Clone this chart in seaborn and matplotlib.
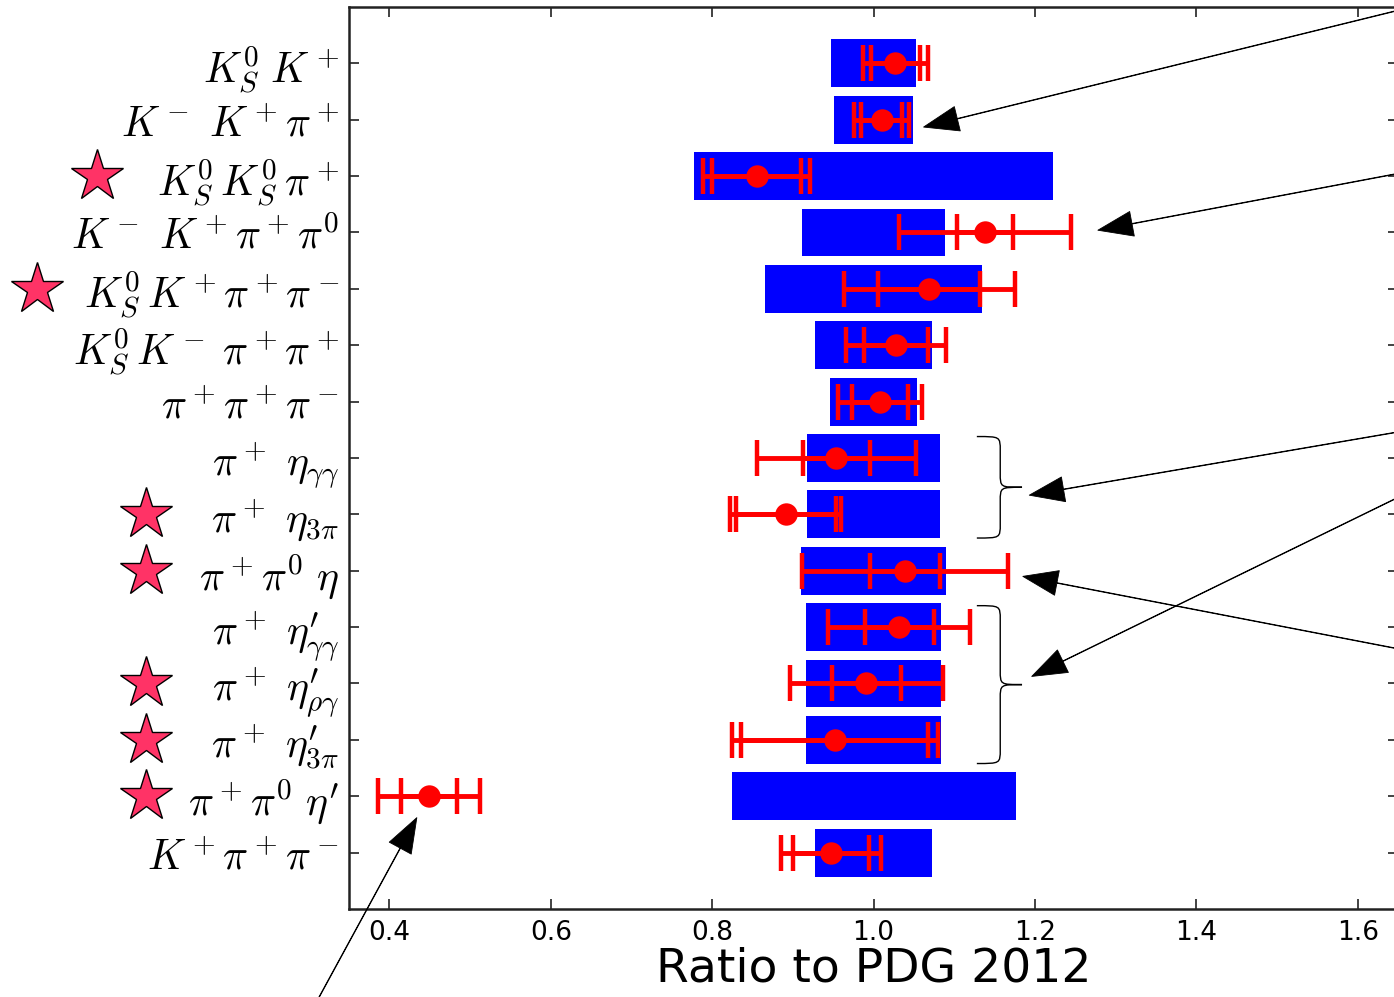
import numpy as np
import pandas as pd
import matplotlib
matplotlib.use("Agg")
import matplotlib.pyplot as plt
import matplotlib.transforms as mtransforms
from matplotlib.path import Path
from matplotlib.patches import PathPatch
import seaborn as sns

# ---------------- data ----------------
labels = [
    r"$K^0_S\;K^+$",
    r"$K^-\ K^+\pi^+$",
    r"$K^0_S\,K^0_S\,\pi^+$",
    r"$K^-\ K^+\pi^+\pi^0$",
    r"$K^0_S\,K^+\pi^+\pi^-$",
    r"$K^0_S\,K^-\;\pi^+\pi^+$",
    r"$\pi^+\pi^+\pi^-$",
    r"$\pi^+\ \eta_{\gamma\gamma}$",
    r"$\pi^+\ \eta_{3\pi}$",
    r"$\pi^+\pi^0\ \eta$",
    r"$\pi^+\ \eta^{\prime}_{\gamma\gamma}$",
    r"$\pi^+\ \eta^{\prime}_{\rho\gamma}$",
    r"$\pi^+\ \eta^{\prime}_{3\pi}$",
    r"$\pi^+\pi^0\ \eta^{\prime}$",
    r"$K^+\pi^+\pi^-$",
]
pdg_err = [0.053, 0.049, 0.222, 0.089, 0.135, 0.073, 0.054, 0.082, 0.082,
           0.090, 0.084, 0.084, 0.084, 0.176, 0.072]
ratio = [1.027, 1.010, 0.855, 1.138, 1.069, 1.028, 1.008, 0.954, 0.891,
         1.039, 1.032, 0.991, 0.952, 0.449, 0.947]
stat_err = [0.030, 0.025, 0.055, 0.035, 0.063, 0.040, 0.035, 0.042, 0.062,
            0.043, 0.043, 0.043, 0.116, 0.035, 0.047]
total_err = [0.040, 0.034, 0.066, 0.107, 0.106, 0.062, 0.052, 0.099, 0.069,
             0.128, 0.088, 0.095, 0.128, 0.063, 0.062]
starred = [2, 4, 8, 9, 11, 12, 13]
brace_groups = [(7, 8), (10, 12)]
xticks = [0.4, 0.6, 0.8, 1.0, 1.2, 1.4, 1.6]
xlabel = "Ratio to PDG 2012"

df = pd.DataFrame({"label": labels, "pdg": pdg_err, "ratio": ratio,
                   "stat": stat_err, "total": total_err})
df["pos"] = np.arange(len(df))

# ---------------- style ----------------
sns.set_style("ticks")
plt.rcParams["font.family"] = ["DejaVu Sans"]
plt.rcParams["mathtext.fontset"] = "cm"
for k in ["text.color", "axes.labelcolor", "xtick.color", "ytick.color",
          "axes.edgecolor"]:
    plt.rcParams[k] = "black"

fig = plt.figure(figsize=(13.94, 9.97), dpi=100)
ax = fig.add_axes([0.2504, 0.0883, 0.7525, 0.9047])

# PDG bands (centred on 1)
ax.barh(df["pos"], 2 * df["pdg"], left=1 - df["pdg"], height=0.85,
        color="#0000FF", linewidth=0, zorder=2)

# measured ratios with total and statistical errors
for col in ["total", "stat"]:
    ax.errorbar(df["ratio"], df["pos"], xerr=df[col], fmt="none",
                ecolor="#FF0000", elinewidth=3.5, capsize=13, capthick=3.2,
                zorder=3)
sns.scatterplot(data=df, x="ratio", y="pos", color="#FF0000", s=260,
                linewidth=0, ax=ax, zorder=4, legend=False)

ax.set_xlim(0.35, 1.65)
ax.set_ylim(len(df), -1)
ax.set_yticks(df["pos"])
ax.set_yticklabels(df["label"], fontsize=30)
ax.set_xticks(xticks)
ax.set_xticklabels([f"{t:.1f}" for t in xticks], fontsize=19)
ax.set_xlabel(xlabel, fontsize=34, labelpad=0)
ax.set_ylabel("")
ax.tick_params(axis="both", direction="in", length=7, width=1.2,
               top=True, right=True, color="#222222")
ax.tick_params(axis="y", pad=7)
ax.tick_params(axis="x", pad=8)
for sp in ax.spines.values():
    sp.set_visible(True)
    sp.set_linewidth(1.8)
    sp.set_color("#222222")

# stars for new channels (x in figure fraction, y in data)
star_x = {2: 0.0696, 4: 0.0265}
trans = mtransforms.blended_transform_factory(fig.transFigure, ax.transData)
for i in starred:
    ax.plot(star_x.get(i, 0.1047), df["pos"][i], marker="*", ms=39,
            markerfacecolor="#FF3366", markeredgecolor="black",
            markeredgewidth=1.0, transform=trans, clip_on=False, zorder=5)

# curly braces
def brace(ax, y_top, y_bot, x0, x1, x2, r=0.25):
    ym = 0.5 * (y_top + y_bot)
    verts = [
        (x0, y_top),
        (x1, y_top), (x1, y_top), (x1, y_top + r),
        (x1, ym - r),
        (x1, ym), (x1, ym), (x2, ym),
        (x1, ym), (x1, ym), (x1, ym + r),
        (x1, y_bot - r),
        (x1, y_bot), (x1, y_bot), (x0, y_bot),
    ]
    codes = [Path.MOVETO,
             Path.CURVE4, Path.CURVE4, Path.CURVE4,
             Path.LINETO,
             Path.CURVE4, Path.CURVE4, Path.CURVE4,
             Path.CURVE4, Path.CURVE4, Path.CURVE4,
             Path.LINETO,
             Path.CURVE4, Path.CURVE4, Path.CURVE4]
    ax.add_patch(PathPatch(Path(verts, codes), facecolor="none",
                           edgecolor="black", linewidth=1.0, zorder=5))

for a, b in brace_groups:
    brace(ax, a - 0.38, b + 0.42, 1.128, 1.157, 1.184)

# annotation arrows (coming from outside the figure)
arrows = [
    ((1.062, 1.13), (1.67, -1.01)),
    ((1.278, 2.96), (1.67, 1.90)),
    ((1.193, 7.66), (1.67, 6.49)),
    ((1.196, 10.875), (1.67, 7.56)),
    ((1.185, 9.10), (1.67, 10.44)),
    ((0.434, 13.38), (0.310, 16.64)),
]
for tip, start in arrows:
    ax.annotate("", xy=tip, xytext=start, xycoords="data",
                textcoords="data", annotation_clip=False,
                arrowprops=dict(facecolor="black", edgecolor="black",
                                width=0.4, headwidth=18, headlength=25,
                                shrink=0.0, linewidth=0.6))

fig.savefig("out.png", dpi=100)
